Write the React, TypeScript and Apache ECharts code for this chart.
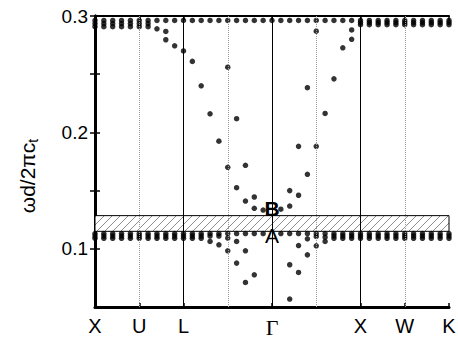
import React, { useEffect, useRef } from 'react';
import * as echarts from 'echarts';

const kGrid = [0, 0.2, 0.4, 0.6, 0.8, 1.0, 1.2, 1.4, 1.6, 1.8, 2.0, 2.2, 2.4, 2.6, 2.8, 3.0, 3.2, 3.4, 3.6, 3.8, 4.0,
  4.2, 4.4, 4.6, 4.8, 5.0, 5.2, 5.4, 5.6, 5.8, 6.0, 6.2, 6.4, 6.6, 6.8, 7.0, 7.2, 7.4, 7.6, 7.8, 8.0];
const tickPositions = [0, 1, 2, 4, 6, 7, 8];
const tickLabels = ['X', 'U', 'L', 'Γ', 'X', 'W', 'K'];
const solidLinesK = [2, 4, 6];
const dottedLinesK = [1, 3, 5, 7];
const gapBand = [0.115, 0.1285];
const yLabelValues = [0.1, 0.2, 0.3];
const yTickValues = [0.1, 0.15, 0.2, 0.25, 0.3];

const upperRowFreq = 0.2962;
const upperLeftSplitK = [0, 0.2, 0.4, 0.6, 0.8, 1.0, 1.2];
const upperLeftSplitFreqs = [0.2935, 0.2908];
const upperRightSplitK = [6.0, 6.2, 6.4, 6.6, 6.8, 7.0, 7.2, 7.4, 7.6, 7.8, 8.0];
const upperRightSplitFreqs = [0.2944, 0.2925];

const lowerRowFreq = 0.1131;
const lowerRowSkipK = [4.0];
const lowerLeftSplitK = [0, 0.2, 0.4, 0.6, 0.8, 1.0, 1.2, 1.4, 1.6, 1.8, 2.0, 2.2, 2.4];
const lowerRightSplitK = [5.4, 5.6, 5.8, 6.0, 6.2, 6.4, 6.6, 6.8, 7.0, 7.2, 7.4, 7.6, 7.8, 8.0];
const lowerSplitFreqs = [0.1110, 0.1090];

const upperBranchPoints = [
  [1.4, 0.2890], [1.6, 0.2867], [1.6, 0.2796], [1.8, 0.2744], [2.0, 0.2700], [2.2, 0.2610], [2.4, 0.2400],
  [2.6, 0.2160], [2.8, 0.1925], [3.0, 0.1700], [3.2, 0.1525], [3.4, 0.1410], [3.6, 0.1348], [3.8, 0.1333],
  [3.0, 0.2560], [3.2, 0.2118], [3.4, 0.1717], [3.6, 0.1445],
  [4.2, 0.1340], [4.4, 0.1367], [4.6, 0.1460], [4.8, 0.1640], [5.0, 0.1880], [5.2, 0.2163], [5.4, 0.2460],
  [5.6, 0.2727], [5.8, 0.2800],
  [4.4, 0.1500], [4.6, 0.1880], [4.8, 0.2384], [5.0, 0.2870], [5.8, 0.2880],
];
const lowerBranchPoints = [
  [2.6, 0.1110], [2.6, 0.1063], [2.8, 0.1110], [2.8, 0.1034], [3.0, 0.1092], [3.0, 0.0983],
  [3.2, 0.1063], [3.2, 0.0877], [3.4, 0.0983], [3.4, 0.0711], [3.6, 0.0777],
  [4.4, 0.0863], [4.4, 0.0568], [4.6, 0.1028], [4.6, 0.0797], [4.8, 0.1086], [4.8, 0.0948],
  [5.0, 0.1106], [5.0, 0.1026], [5.2, 0.1100], [5.2, 0.1063],
];
const gapLabels = [
  { name: 'B', k: 4, freq: 0.1343, bold: true },
  { name: 'A', k: 4, freq: 0.1112, bold: false },
];

function buildPoints(): number[][] {
  const pts: number[][] = [];
  kGrid.forEach((k) => pts.push([k, upperRowFreq]));
  upperLeftSplitK.forEach((k) => upperLeftSplitFreqs.forEach((f) => pts.push([k, f])));
  upperRightSplitK.forEach((k) => upperRightSplitFreqs.forEach((f) => pts.push([k, f])));
  kGrid.forEach((k) => { if (!lowerRowSkipK.includes(k)) pts.push([k, lowerRowFreq]); });
  lowerLeftSplitK.forEach((k) => lowerSplitFreqs.forEach((f) => pts.push([k, f])));
  lowerRightSplitK.forEach((k) => lowerSplitFreqs.forEach((f) => pts.push([k, f])));
  upperBranchPoints.forEach((p) => pts.push(p));
  lowerBranchPoints.forEach((p) => pts.push(p));
  return pts;
}

function makeHatch(): string {
  const c = document.createElement('canvas');
  c.width = 8;
  c.height = 8;
  const ctx = c.getContext('2d')!;
  ctx.fillStyle = '#ffffff';
  ctx.fillRect(0, 0, 8, 8);
  ctx.strokeStyle = '#808080';
  ctx.lineWidth = 0.9;
  ctx.beginPath();
  ctx.moveTo(-1, 9); ctx.lineTo(9, -1);
  ctx.moveTo(-1, 1); ctx.lineTo(1, -1);
  ctx.moveTo(7, 9); ctx.lineTo(9, 7);
  ctx.stroke();
  return c.toDataURL();
}

const FONT = 'Liberation Sans, Arial, Helvetica, sans-serif';

export default function App() {
  const ref = useRef<HTMLDivElement>(null);
  useEffect(() => {
    if (!ref.current) return;
    const chart = echarts.init(ref.current, null, { renderer: 'svg' });
    const hatch = makeHatch();
    const yTicksCommon = {
      inside: true,
      customValues: yTickValues,
      length: 5,
      lineStyle: { color: '#000', width: 1.5 },
    };
    const xTicksCommon = {
      inside: true,
      customValues: tickPositions,
      length: 4,
      lineStyle: { color: '#000', width: 1.5 },
    };
    const titleGraphic = {
      type: 'text',
      id: 'ytitle',
      x: 27,
      y: 176,
      rotation: Math.PI / 2,
      style: {
        text: '{a|ωd/2πc}{s|t}',
        align: 'center',
        verticalAlign: 'middle',
        fill: '#000',
        rich: {
          a: { fontSize: 21, fontFamily: FONT, lineHeight: 26, fill: '#000' },
          s: { fontSize: 14, fontFamily: FONT, verticalAlign: 'bottom', lineHeight: 26, fill: '#000' },
        },
      },
    };
    chart.setOption({
      animation: false,
      backgroundColor: '#fff',
      grid: { left: 95, right: 9, top: 16, bottom: 36, outerBoundsMode: 'none' },
      xAxis: [
        {
          type: 'value', min: 0, max: 8, position: 'bottom',
          axisLine: { show: true, lineStyle: { color: '#000', width: 3 } },
          axisTick: xTicksCommon,
          splitLine: { show: false },
          axisLabel: {
            customValues: tickPositions,
            margin: 9,
            color: '#000',
            fontSize: 20,
            fontFamily: FONT,
            formatter: (v: number) => {
              const i = tickPositions.indexOf(v);
              const t = i >= 0 ? tickLabels[i] : '';
              return t === 'Γ' ? '{g|Γ}' : t;
            },
            rich: { g: { fontFamily: 'Liberation Serif, serif', fontSize: 22, color: '#000' } },
          },
        },
        {
          type: 'value', min: 0, max: 8, position: 'top',
          axisLine: { show: true, lineStyle: { color: '#000', width: 2 } },
          axisTick: xTicksCommon,
          axisLabel: { show: false },
          splitLine: { show: false },
        },
      ],
      yAxis: [
        {
          type: 'value', min: 0.05, max: 0.3, position: 'left',
          axisLine: { show: true, lineStyle: { color: '#000', width: 3 } },
          axisTick: yTicksCommon,
          splitLine: { show: false },
          axisLabel: {
            customValues: yLabelValues,
            margin: 7,
            color: '#000',
            fontSize: 19,
            fontFamily: FONT,
            formatter: (v: number) => v.toFixed(1),
          },
        },
        {
          type: 'value', min: 0.05, max: 0.3, position: 'right',
          axisLine: { show: true, lineStyle: { color: '#000', width: 3 } },
          axisTick: yTicksCommon,
          axisLabel: { show: false },
          splitLine: { show: false },
        },
      ],
      graphic: [titleGraphic],
      series: [
        {
          type: 'line',
          data: [],
          z: 1,
          markLine: {
            silent: true,
            symbol: ['none', 'none'],
            label: { show: false },
            data: [
              ...solidLinesK.map((k) => ({ xAxis: k, lineStyle: { color: '#000', width: 1, type: 'solid' } })),
              ...dottedLinesK.map((k) => ({ xAxis: k, lineStyle: { color: '#999', width: 1, type: 'dotted' } })),
            ],
          },
          markArea: {
            silent: true,
            itemStyle: {
              color: { image: hatch, repeat: 'repeat', imageWidth: 8, imageHeight: 8 },
              borderColor: '#000',
              borderWidth: 1,
            },
            data: [[{ xAxis: 0, yAxis: gapBand[0] }, { xAxis: 8, yAxis: gapBand[1] }]],
          },
        },
        {
          type: 'scatter',
          z: 3,
          symbol: 'circle',
          symbolSize: 5.5,
          itemStyle: { color: '#000' },
          data: buildPoints(),
        },
      ],
    });
    const labelGraphics = gapLabels.map((g, i) => {
      const p = chart.convertToPixel({ gridIndex: 0 }, [g.k, g.freq]) as number[];
      return {
        type: 'text',
        id: 'gap' + i,
        x: p[0],
        y: p[1],
        z: 10,
        style: {
          text: g.name,
          align: 'center',
          verticalAlign: 'middle',
          fill: '#000',
          fontSize: 21,
          fontFamily: FONT,
          fontWeight: g.bold ? 'bold' : 'normal',
        },
      };
    });
    chart.setOption({ graphic: [titleGraphic, ...labelGraphics] });
    return () => chart.dispose();
  }, []);
  return <div ref={ref} style={{ position: 'fixed', left: 0, top: 0, width: 458, height: 343 }} />;
}
